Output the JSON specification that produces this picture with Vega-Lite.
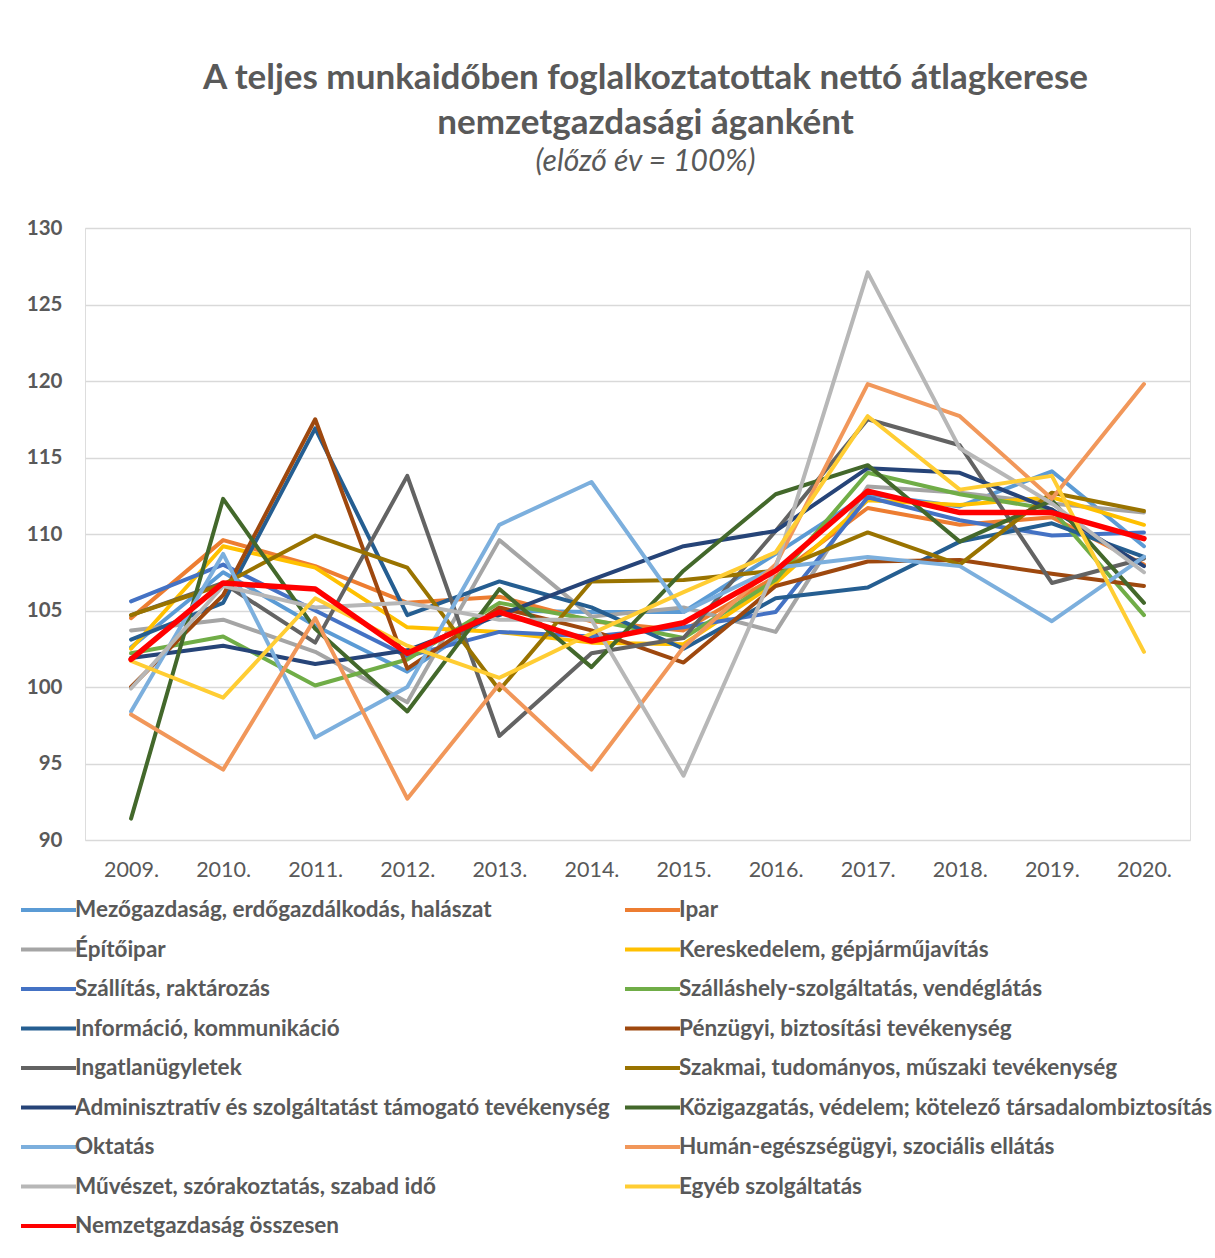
{
"$schema": "https://vega.github.io/schema/vega-lite/v6.json",
"width": 1105, "height": 612,
"autosize": "none",
"padding": {"left": 85, "top": 228, "right": 25, "bottom": 418},
"background": "white",
"title": {"text": ["A teljes munkaidőben foglalkoztatottak nettó átlagkerese", "nemzetgazdasági áganként"], "subtitle": "(előző év = 100%)", "anchor": "middle", "frame": "group", "dx": 8, "offset": 41, "font": "Lato", "fontSize": 35, "fontWeight": "bold", "color": "#595959", "lineHeight": 45, "subtitleFont": "Lato", "subtitleFontSize": 30, "subtitleFontStyle": "italic", "subtitleColor": "#595959", "subtitlePadding": 6},
"datasets": {"d": [
{"sector":"Mezőgazdaság, erdőgazdálkodás, halászat","year":2009,"value":102.6},{"sector":"Mezőgazdaság, erdőgazdálkodás, halászat","year":2010,"value":107.5},{"sector":"Mezőgazdaság, erdőgazdálkodás, halászat","year":2011,"value":104.0},{"sector":"Mezőgazdaság, erdőgazdálkodás, halászat","year":2012,"value":101.0},{"sector":"Mezőgazdaság, erdőgazdálkodás, halászat","year":2013,"value":105.0},{"sector":"Mezőgazdaság, erdőgazdálkodás, halászat","year":2014,"value":104.9},{"sector":"Mezőgazdaság, erdőgazdálkodás, halászat","year":2015,"value":104.9},{"sector":"Mezőgazdaság, erdőgazdálkodás, halászat","year":2016,"value":108.7},{"sector":"Mezőgazdaság, erdőgazdálkodás, halászat","year":2017,"value":112.6},{"sector":"Mezőgazdaság, erdőgazdálkodás, halászat","year":2018,"value":111.8},{"sector":"Mezőgazdaság, erdőgazdálkodás, halászat","year":2019,"value":114.1},{"sector":"Mezőgazdaság, erdőgazdálkodás, halászat","year":2020,"value":109.2},
{"sector":"Ipar","year":2009,"value":104.5},{"sector":"Ipar","year":2010,"value":109.6},{"sector":"Ipar","year":2011,"value":107.9},{"sector":"Ipar","year":2012,"value":105.5},{"sector":"Ipar","year":2013,"value":105.9},{"sector":"Ipar","year":2014,"value":104.3},{"sector":"Ipar","year":2015,"value":103.7},{"sector":"Ipar","year":2016,"value":107.2},{"sector":"Ipar","year":2017,"value":111.7},{"sector":"Ipar","year":2018,"value":110.6},{"sector":"Ipar","year":2019,"value":111.1},{"sector":"Ipar","year":2020,"value":108.0},
{"sector":"Építőipar","year":2009,"value":103.7},{"sector":"Építőipar","year":2010,"value":104.4},{"sector":"Építőipar","year":2011,"value":102.3},{"sector":"Építőipar","year":2012,"value":99.0},{"sector":"Építőipar","year":2013,"value":109.6},{"sector":"Építőipar","year":2014,"value":104.6},{"sector":"Építőipar","year":2015,"value":105.2},{"sector":"Építőipar","year":2016,"value":103.6},{"sector":"Építőipar","year":2017,"value":113.1},{"sector":"Építőipar","year":2018,"value":112.7},{"sector":"Építőipar","year":2019,"value":112.0},{"sector":"Építőipar","year":2020,"value":111.4},
{"sector":"Kereskedelem, gépjárműjavítás","year":2009,"value":102.5},{"sector":"Kereskedelem, gépjárműjavítás","year":2010,"value":109.2},{"sector":"Kereskedelem, gépjárműjavítás","year":2011,"value":107.8},{"sector":"Kereskedelem, gépjárműjavítás","year":2012,"value":103.9},{"sector":"Kereskedelem, gépjárműjavítás","year":2013,"value":103.6},{"sector":"Kereskedelem, gépjárműjavítás","year":2014,"value":102.9},{"sector":"Kereskedelem, gépjárműjavítás","year":2015,"value":102.8},{"sector":"Kereskedelem, gépjárműjavítás","year":2016,"value":106.8},{"sector":"Kereskedelem, gépjárműjavítás","year":2017,"value":112.2},{"sector":"Kereskedelem, gépjárműjavítás","year":2018,"value":111.9},{"sector":"Kereskedelem, gépjárműjavítás","year":2019,"value":112.4},{"sector":"Kereskedelem, gépjárműjavítás","year":2020,"value":110.6},
{"sector":"Szállítás, raktározás","year":2009,"value":105.6},{"sector":"Szállítás, raktározás","year":2010,"value":108.0},{"sector":"Szállítás, raktározás","year":2011,"value":105.0},{"sector":"Szállítás, raktározás","year":2012,"value":102.0},{"sector":"Szállítás, raktározás","year":2013,"value":103.6},{"sector":"Szállítás, raktározás","year":2014,"value":103.3},{"sector":"Szállítás, raktározás","year":2015,"value":103.9},{"sector":"Szállítás, raktározás","year":2016,"value":104.9},{"sector":"Szállítás, raktározás","year":2017,"value":112.4},{"sector":"Szállítás, raktározás","year":2018,"value":110.9},{"sector":"Szállítás, raktározás","year":2019,"value":109.9},{"sector":"Szállítás, raktározás","year":2020,"value":110.1},
{"sector":"Szálláshely-szolgáltatás, vendéglátás","year":2009,"value":102.2},{"sector":"Szálláshely-szolgáltatás, vendéglátás","year":2010,"value":103.3},{"sector":"Szálláshely-szolgáltatás, vendéglátás","year":2011,"value":100.1},{"sector":"Szálláshely-szolgáltatás, vendéglátás","year":2012,"value":101.8},{"sector":"Szálláshely-szolgáltatás, vendéglátás","year":2013,"value":105.5},{"sector":"Szálláshely-szolgáltatás, vendéglátás","year":2014,"value":104.4},{"sector":"Szálláshely-szolgáltatás, vendéglátás","year":2015,"value":103.2},{"sector":"Szálláshely-szolgáltatás, vendéglátás","year":2016,"value":107.0},{"sector":"Szálláshely-szolgáltatás, vendéglátás","year":2017,"value":114.0},{"sector":"Szálláshely-szolgáltatás, vendéglátás","year":2018,"value":112.6},{"sector":"Szálláshely-szolgáltatás, vendéglátás","year":2019,"value":111.6},{"sector":"Szálláshely-szolgáltatás, vendéglátás","year":2020,"value":104.7},
{"sector":"Információ, kommunikáció","year":2009,"value":103.1},{"sector":"Információ, kommunikáció","year":2010,"value":105.5},{"sector":"Információ, kommunikáció","year":2011,"value":116.9},{"sector":"Információ, kommunikáció","year":2012,"value":104.7},{"sector":"Információ, kommunikáció","year":2013,"value":106.9},{"sector":"Információ, kommunikáció","year":2014,"value":105.2},{"sector":"Információ, kommunikáció","year":2015,"value":102.5},{"sector":"Információ, kommunikáció","year":2016,"value":105.8},{"sector":"Információ, kommunikáció","year":2017,"value":106.5},{"sector":"Információ, kommunikáció","year":2018,"value":109.5},{"sector":"Információ, kommunikáció","year":2019,"value":110.7},{"sector":"Információ, kommunikáció","year":2020,"value":108.5},
{"sector":"Pénzügyi, biztosítási tevékenység","year":2009,"value":100.0},{"sector":"Pénzügyi, biztosítási tevékenység","year":2010,"value":106.0},{"sector":"Pénzügyi, biztosítási tevékenység","year":2011,"value":117.5},{"sector":"Pénzügyi, biztosítási tevékenység","year":2012,"value":101.2},{"sector":"Pénzügyi, biztosítási tevékenység","year":2013,"value":105.2},{"sector":"Pénzügyi, biztosítási tevékenység","year":2014,"value":103.7},{"sector":"Pénzügyi, biztosítási tevékenység","year":2015,"value":101.6},{"sector":"Pénzügyi, biztosítási tevékenység","year":2016,"value":106.6},{"sector":"Pénzügyi, biztosítási tevékenység","year":2017,"value":108.2},{"sector":"Pénzügyi, biztosítási tevékenység","year":2018,"value":108.3},{"sector":"Pénzügyi, biztosítási tevékenység","year":2019,"value":107.4},{"sector":"Pénzügyi, biztosítási tevékenység","year":2020,"value":106.6},
{"sector":"Ingatlanügyletek","year":2009,"value":104.7},{"sector":"Ingatlanügyletek","year":2010,"value":106.8},{"sector":"Ingatlanügyletek","year":2011,"value":102.9},{"sector":"Ingatlanügyletek","year":2012,"value":113.8},{"sector":"Ingatlanügyletek","year":2013,"value":96.8},{"sector":"Ingatlanügyletek","year":2014,"value":102.2},{"sector":"Ingatlanügyletek","year":2015,"value":103.2},{"sector":"Ingatlanügyletek","year":2016,"value":110.2},{"sector":"Ingatlanügyletek","year":2017,"value":117.5},{"sector":"Ingatlanügyletek","year":2018,"value":115.8},{"sector":"Ingatlanügyletek","year":2019,"value":106.8},{"sector":"Ingatlanügyletek","year":2020,"value":108.4},
{"sector":"Szakmai, tudományos, műszaki tevékenység","year":2009,"value":104.7},{"sector":"Szakmai, tudományos, műszaki tevékenység","year":2010,"value":106.7},{"sector":"Szakmai, tudományos, műszaki tevékenység","year":2011,"value":109.9},{"sector":"Szakmai, tudományos, műszaki tevékenység","year":2012,"value":107.8},{"sector":"Szakmai, tudományos, műszaki tevékenység","year":2013,"value":99.8},{"sector":"Szakmai, tudományos, műszaki tevékenység","year":2014,"value":106.9},{"sector":"Szakmai, tudományos, műszaki tevékenység","year":2015,"value":107.0},{"sector":"Szakmai, tudományos, műszaki tevékenység","year":2016,"value":107.6},{"sector":"Szakmai, tudományos, műszaki tevékenység","year":2017,"value":110.1},{"sector":"Szakmai, tudományos, műszaki tevékenység","year":2018,"value":108.0},{"sector":"Szakmai, tudományos, műszaki tevékenység","year":2019,"value":112.7},{"sector":"Szakmai, tudományos, műszaki tevékenység","year":2020,"value":111.5},
{"sector":"Adminisztratív és szolgáltatást támogató tevékenység","year":2009,"value":101.9},{"sector":"Adminisztratív és szolgáltatást támogató tevékenység","year":2010,"value":102.7},{"sector":"Adminisztratív és szolgáltatást támogató tevékenység","year":2011,"value":101.5},{"sector":"Adminisztratív és szolgáltatást támogató tevékenység","year":2012,"value":102.4},{"sector":"Adminisztratív és szolgáltatást támogató tevékenység","year":2013,"value":104.7},{"sector":"Adminisztratív és szolgáltatást támogató tevékenység","year":2014,"value":107.0},{"sector":"Adminisztratív és szolgáltatást támogató tevékenység","year":2015,"value":109.2},{"sector":"Adminisztratív és szolgáltatást támogató tevékenység","year":2016,"value":110.2},{"sector":"Adminisztratív és szolgáltatást támogató tevékenység","year":2017,"value":114.3},{"sector":"Adminisztratív és szolgáltatást támogató tevékenység","year":2018,"value":114.0},{"sector":"Adminisztratív és szolgáltatást támogató tevékenység","year":2019,"value":111.6},{"sector":"Adminisztratív és szolgáltatást támogató tevékenység","year":2020,"value":107.9},
{"sector":"Közigazgatás, védelem; kötelező társadalombiztosítás","year":2009,"value":91.4},{"sector":"Közigazgatás, védelem; kötelező társadalombiztosítás","year":2010,"value":112.3},{"sector":"Közigazgatás, védelem; kötelező társadalombiztosítás","year":2011,"value":103.8},{"sector":"Közigazgatás, védelem; kötelező társadalombiztosítás","year":2012,"value":98.4},{"sector":"Közigazgatás, védelem; kötelező társadalombiztosítás","year":2013,"value":106.4},{"sector":"Közigazgatás, védelem; kötelező társadalombiztosítás","year":2014,"value":101.3},{"sector":"Közigazgatás, védelem; kötelező társadalombiztosítás","year":2015,"value":107.6},{"sector":"Közigazgatás, védelem; kötelező társadalombiztosítás","year":2016,"value":112.6},{"sector":"Közigazgatás, védelem; kötelező társadalombiztosítás","year":2017,"value":114.5},{"sector":"Közigazgatás, védelem; kötelező társadalombiztosítás","year":2018,"value":109.5},{"sector":"Közigazgatás, védelem; kötelező társadalombiztosítás","year":2019,"value":112.2},{"sector":"Közigazgatás, védelem; kötelező társadalombiztosítás","year":2020,"value":105.5},
{"sector":"Oktatás","year":2009,"value":98.4},{"sector":"Oktatás","year":2010,"value":108.7},{"sector":"Oktatás","year":2011,"value":96.7},{"sector":"Oktatás","year":2012,"value":100.0},{"sector":"Oktatás","year":2013,"value":110.6},{"sector":"Oktatás","year":2014,"value":113.4},{"sector":"Oktatás","year":2015,"value":104.9},{"sector":"Oktatás","year":2016,"value":107.8},{"sector":"Oktatás","year":2017,"value":108.5},{"sector":"Oktatás","year":2018,"value":107.9},{"sector":"Oktatás","year":2019,"value":104.3},{"sector":"Oktatás","year":2020,"value":108.5},
{"sector":"Humán-egészségügyi, szociális ellátás","year":2009,"value":98.2},{"sector":"Humán-egészségügyi, szociális ellátás","year":2010,"value":94.6},{"sector":"Humán-egészségügyi, szociális ellátás","year":2011,"value":104.5},{"sector":"Humán-egészségügyi, szociális ellátás","year":2012,"value":92.7},{"sector":"Humán-egészségügyi, szociális ellátás","year":2013,"value":100.2},{"sector":"Humán-egészségügyi, szociális ellátás","year":2014,"value":94.6},{"sector":"Humán-egészségügyi, szociális ellátás","year":2015,"value":102.6},{"sector":"Humán-egészségügyi, szociális ellátás","year":2016,"value":108.0},{"sector":"Humán-egészségügyi, szociális ellátás","year":2017,"value":119.8},{"sector":"Humán-egészségügyi, szociális ellátás","year":2018,"value":117.7},{"sector":"Humán-egészségügyi, szociális ellátás","year":2019,"value":112.3},{"sector":"Humán-egészségügyi, szociális ellátás","year":2020,"value":119.8},
{"sector":"Művészet, szórakoztatás, szabad idő","year":2009,"value":99.9},{"sector":"Művészet, szórakoztatás, szabad idő","year":2010,"value":106.6},{"sector":"Művészet, szórakoztatás, szabad idő","year":2011,"value":105.2},{"sector":"Művészet, szórakoztatás, szabad idő","year":2012,"value":105.5},{"sector":"Művészet, szórakoztatás, szabad idő","year":2013,"value":104.4},{"sector":"Művészet, szórakoztatás, szabad idő","year":2014,"value":104.4},{"sector":"Művészet, szórakoztatás, szabad idő","year":2015,"value":94.2},{"sector":"Művészet, szórakoztatás, szabad idő","year":2016,"value":107.8},{"sector":"Művészet, szórakoztatás, szabad idő","year":2017,"value":127.1},{"sector":"Művészet, szórakoztatás, szabad idő","year":2018,"value":115.6},{"sector":"Művészet, szórakoztatás, szabad idő","year":2019,"value":112.0},{"sector":"Művészet, szórakoztatás, szabad idő","year":2020,"value":107.5},
{"sector":"Egyéb szolgáltatás","year":2009,"value":101.7},{"sector":"Egyéb szolgáltatás","year":2010,"value":99.3},{"sector":"Egyéb szolgáltatás","year":2011,"value":105.8},{"sector":"Egyéb szolgáltatás","year":2012,"value":102.7},{"sector":"Egyéb szolgáltatás","year":2013,"value":100.6},{"sector":"Egyéb szolgáltatás","year":2014,"value":103.5},{"sector":"Egyéb szolgáltatás","year":2015,"value":106.2},{"sector":"Egyéb szolgáltatás","year":2016,"value":108.8},{"sector":"Egyéb szolgáltatás","year":2017,"value":117.7},{"sector":"Egyéb szolgáltatás","year":2018,"value":112.9},{"sector":"Egyéb szolgáltatás","year":2019,"value":113.8},{"sector":"Egyéb szolgáltatás","year":2020,"value":102.3},
{"sector":"Nemzetgazdaság összesen","year":2009,"value":101.8},{"sector":"Nemzetgazdaság összesen","year":2010,"value":106.8},{"sector":"Nemzetgazdaság összesen","year":2011,"value":106.4},{"sector":"Nemzetgazdaság összesen","year":2012,"value":102.2},{"sector":"Nemzetgazdaság összesen","year":2013,"value":104.9},{"sector":"Nemzetgazdaság összesen","year":2014,"value":103.0},{"sector":"Nemzetgazdaság összesen","year":2015,"value":104.2},{"sector":"Nemzetgazdaság összesen","year":2016,"value":107.6},{"sector":"Nemzetgazdaság összesen","year":2017,"value":112.8},{"sector":"Nemzetgazdaság összesen","year":2018,"value":111.4},{"sector":"Nemzetgazdaság összesen","year":2019,"value":111.4},{"sector":"Nemzetgazdaság összesen","year":2020,"value":109.7}
]},
"data": {"name": "d"},
"encoding": {
  "x": {"field": "year", "type": "ordinal", "scale": {"type": "point", "padding": 0.5},
        "axis": {"title": null, "labelExpr": "datum.label + '.'", "labelAngle": 0, "labelFont": "Lato", "labelFontSize": 21.5, "labelColor": "#595959", "labelPadding": 19, "ticks": false, "domain": false, "grid": false}},
  "y": {"field": "value", "type": "quantitative", "scale": {"domain": [90, 130], "nice": false, "zero": false},
        "axis": {"title": null, "values": [90, 95, 100, 105, 110, 115, 120, 125, 130], "labelFont": "Lato", "labelFontSize": 20.5, "labelFontWeight": "bold", "labelColor": "#595959", "labelPadding": 23, "ticks": false, "domain": false, "gridColor": "#D9D9D9", "gridWidth": 1.5}},
  "color": {"field": "sector", "type": "nominal",
    "scale": {"domain": ["Mezőgazdaság, erdőgazdálkodás, halászat","Építőipar","Szállítás, raktározás","Információ, kommunikáció","Ingatlanügyletek","Adminisztratív és szolgáltatást támogató tevékenység","Oktatás","Művészet, szórakoztatás, szabad idő","Nemzetgazdaság összesen","Ipar","Kereskedelem, gépjárműjavítás","Szálláshely-szolgáltatás, vendéglátás","Pénzügyi, biztosítási tevékenység","Szakmai, tudományos, műszaki tevékenység","Közigazgatás, védelem; kötelező társadalombiztosítás","Humán-egészségügyi, szociális ellátás","Egyéb szolgáltatás"],
              "range": ["#5B9BD5","#A5A5A5","#4472C4","#255E91","#636363","#264478","#7CAFDD","#B7B7B7","#FF0000","#ED7D31","#FFC000","#70AD47","#9E480E","#997300","#43682B","#F1975A","#FFCD33"]},
    "legend": {"title": null, "orient": "none", "legendX": -66, "legendY": 670, "columns": 2, "symbolType": "stroke", "symbolSize": 3025, "symbolStrokeWidth": 4, "clipHeight": 24, "rowPadding": 15.5, "columnPadding": 12, "labelFont": "Lato", "labelFontSize": 22.5, "labelFontWeight": "bold", "labelColor": "#595959", "labelLimit": 800, "labelOffset": -3}}
},
"layer": [
  {"transform": [{"filter": "datum.sector != 'Nemzetgazdaság összesen'"}], "mark": {"type": "line", "strokeWidth": 4, "strokeCap": "round", "strokeJoin": "round"}},
  {"transform": [{"filter": "datum.sector == 'Nemzetgazdaság összesen'"}], "mark": {"type": "line", "strokeWidth": 5.5, "strokeCap": "round", "strokeJoin": "round"}}
]
}
